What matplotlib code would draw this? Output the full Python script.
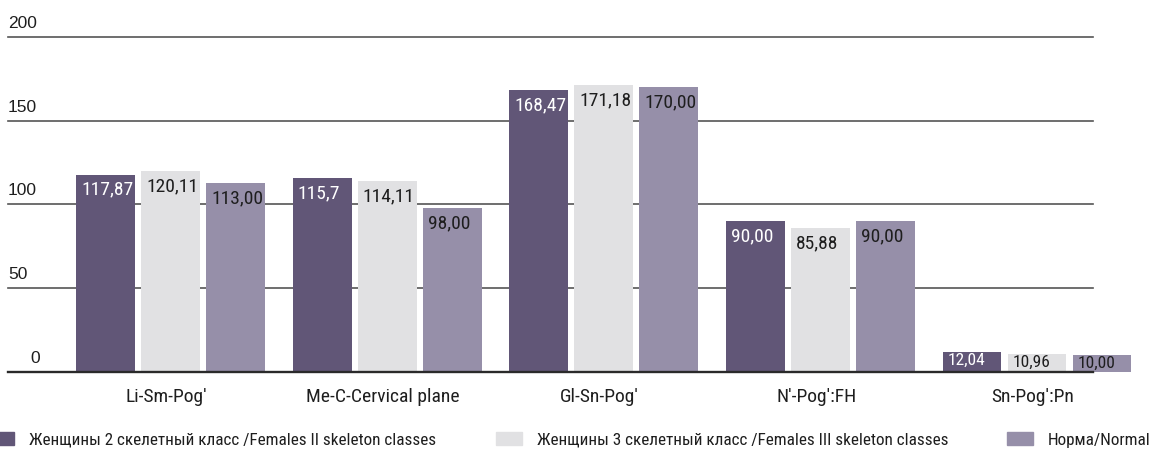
import numpy as np
import matplotlib
matplotlib.use("Agg")
import matplotlib.pyplot as plt
import matplotlib.patches as mpatches

# data
categories = ["Li-Sm-Pog'", "Me-C-Cervical plane", "Gl-Sn-Pog'", "N'-Pog':FH", "Sn-Pog':Pn"]
females_2 = [117.87, 115.7, 168.47, 90.00, 12.04]
females_3 = [120.11, 114.11, 171.18, 85.88, 10.96]
norma = [113.00, 98.00, 170.00, 90.00, 10.00]
labels_2 = ["117,87", "115,7", "168,47", "90,00", "12,04"]
labels_3 = ["120,11", "114,11", "171,18", "85,88", "10,96"]
labels_n = ["113,00", "98,00", "170,00", "90,00", "10,00"]
series_names = [
    "Женщины 2 скелетный класс /Females II skeleton classes",
    "Женщины 3 скелетный класс /Females III skeleton classes",
    "Норма/Normal",
]
y_ticks = [0, 50, 100, 150, 200]

colors = ["#615677", "#e1e1e3", "#968fa9"]
text_colors = ["white", "#1e1e1e", "#1e1e1e"]

plt.rcParams["font.family"] = ["Roboto Condensed", "DejaVu Sans"]

W, H = 1163, 455
fig = plt.figure(figsize=(W / 100, H / 100), dpi=100)
fig.patch.set_facecolor("white")

# axes placed in pixel terms: x 8..1131, y 37 (200) .. 372 (0)
ax = fig.add_axes([8 / W, 1 - 372 / H, (1131 - 8) / W, (372 - 37) / H])
ax.set_xlim(-0.750, 4.434)
ax.set_ylim(0, 200)
ax.set_axis_off()

x = np.arange(len(categories))
step = 0.300
width = 0.272
grid_end = (1093 - 8) / (1131 - 8)

# gridlines behind the bars
for v in y_ticks[1:]:
    ax.axhline(v, xmin=0, xmax=grid_end, color="#555555", lw=1.2,
               zorder=1, clip_on=False)
    ax.annotate(str(v), xy=(0, v), xycoords=("axes fraction", "data"),
                xytext=(0, 6.5), textcoords="offset points",
                ha="left", va="baseline", fontsize=12.5,
                family="Liberation Sans", color="#1e1e1e")
ax.annotate("0", xy=(0, 0), xycoords=("axes fraction", "data"),
            xytext=(16, 6.5), textcoords="offset points",
            ha="left", va="baseline", fontsize=12.5,
            family="Liberation Sans", color="#1e1e1e")

all_vals = [females_2, females_3, norma]
all_labels = [labels_2, labels_3, labels_n]
for i, (vals, labs) in enumerate(zip(all_vals, all_labels)):
    xs = x + (i - 1) * step
    ax.bar(xs, vals, width=width, color=colors[i], zorder=2,
           label=series_names[i])
    for xi, v, lab in zip(xs, vals, labs):
        short = v < 30
        ax.annotate(lab, xy=(xi - width / 2, v), xycoords="data",
                    xytext=(3.6, -0.6 if short else -4.5),
                    textcoords="offset points",
                    ha="left", va="top",
                    fontsize=12.5 if short else 14,
                    color=text_colors[i], zorder=3)

# baseline drawn over the bars
ax.axhline(0, xmin=0, xmax=grid_end, color="#2a2a2a", lw=1.7,
           zorder=4, clip_on=False)

# category labels under each group
for xi, cat in zip(x, categories):
    ax.annotate(cat, xy=(xi, 0), xycoords="data",
                xytext=(-3, -11.5), textcoords="offset points",
                ha="center", va="top", fontsize=14, color="#1e1e1e")

# legend along the bottom: one entry per block, left edges of the swatches
swatch_left = [-12, 496, 1007]
for c, n, left in zip(colors, series_names, swatch_left):
    fig.legend(handles=[mpatches.Patch(color=c, label=n)], loc="center left",
               bbox_to_anchor=(left / W, 1 - 440 / H),
               frameon=False, fontsize=12.3,
               handlelength=1.55, handleheight=0.8, handletextpad=0.85,
               borderpad=0, borderaxespad=0, labelcolor="#1e1e1e")

fig.savefig("out.png", dpi=100, facecolor="white")
plt.close(fig)
